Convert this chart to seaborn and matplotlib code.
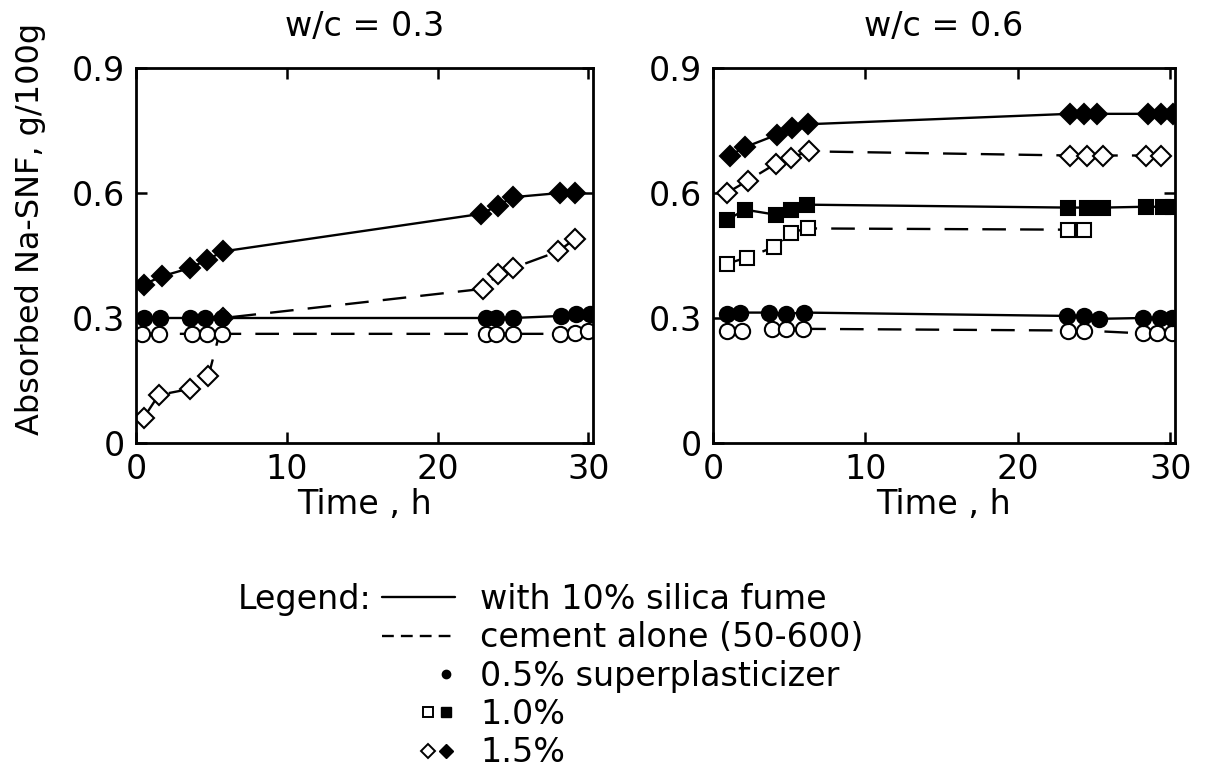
import numpy as np
import pandas as pd
import matplotlib
matplotlib.use("Agg")
import matplotlib.pyplot as plt
from matplotlib.lines import Line2D
from matplotlib.legend_handler import HandlerTuple
import seaborn as sns

# ---------------- data ----------------
panel_titles = ["w/c = 0.3", "w/c = 0.6"]

# w/c = 0.3
l_sf15_t = [0.5, 1.7, 3.6, 4.7, 5.8, 22.9, 24.0, 25.0, 28.1, 29.1]
l_sf15_v = [0.38, 0.40, 0.42, 0.44, 0.46, 0.55, 0.57, 0.59, 0.60, 0.60]
l_c15_t = [0.5, 1.5, 3.6, 4.8, 5.8, 23.0, 24.0, 25.0, 28.0, 29.1]
l_c15_v = [0.06, 0.115, 0.13, 0.16, 0.30, 0.37, 0.405, 0.42, 0.46, 0.49]
l_sf05_t = [0.5, 1.6, 3.6, 4.6, 5.7, 23.2, 23.9, 25.0, 28.2, 29.2, 30.1]
l_sf05_v = [0.30, 0.30, 0.30, 0.30, 0.30, 0.30, 0.30, 0.30, 0.305, 0.31, 0.31]
l_c05_t = [0.4, 1.5, 3.7, 4.7, 5.7, 23.2, 23.9, 25.0, 28.1, 29.1, 30.0]
l_c05_v = [0.262, 0.262, 0.262, 0.262, 0.262, 0.262, 0.262, 0.262, 0.262, 0.265, 0.27]

# w/c = 0.6
r_sf15_t = [1.1, 2.1, 4.2, 5.2, 6.2, 23.4, 24.3, 25.2, 28.5, 29.4, 30.2]
r_sf15_v = [0.69, 0.71, 0.74, 0.755, 0.765, 0.79, 0.79, 0.79, 0.79, 0.79, 0.79]
r_c15_t = [0.9, 2.3, 4.1, 5.1, 6.3, 23.4, 24.5, 25.6, 28.4, 29.4]
r_c15_v = [0.60, 0.63, 0.67, 0.685, 0.70, 0.69, 0.69, 0.69, 0.69, 0.69]
r_sf10_t = [0.9, 2.1, 4.1, 5.1, 6.15, 23.3, 24.5, 25.6, 28.4, 29.5, 30.2]
r_sf10_v = [0.535, 0.56, 0.548, 0.56, 0.572, 0.565, 0.565, 0.565, 0.567, 0.567, 0.567]
r_c10_t = [0.9, 2.2, 4.0, 5.1, 6.2, 23.3, 24.3]
r_c10_v = [0.43, 0.445, 0.47, 0.505, 0.515, 0.512, 0.512]
r_sf05_t = [0.9, 1.8, 3.7, 4.8, 6.0, 23.2, 24.3, 25.3, 28.2, 29.3, 30.1]
r_sf05_v = [0.31, 0.313, 0.313, 0.31, 0.313, 0.305, 0.304, 0.298, 0.30, 0.30, 0.30]
r_c05_t = [0.9, 1.9, 3.9, 4.8, 5.9, 23.3, 24.3, 28.2, 29.1, 30.1]
r_c05_v = [0.27, 0.27, 0.274, 0.274, 0.274, 0.27, 0.27, 0.263, 0.263, 0.265]

x_ticks = [0, 10, 20, 30]
y_ticks = [0, 0.3, 0.6, 0.9]
y_tick_labels = ["0", "0.3", "0.6", "0.9"]

legend_labels = ["with 10% silica fume", "cement alone (50-600)",
                 "0.5% superplasticizer", "1.0%", "1.5%"]


def frame(series):
    rows = []
    for name, t, v in series:
        for ti, vi in zip(t, v):
            rows.append({"series": name, "time": ti, "value": vi})
    return pd.DataFrame(rows)


left_df = frame([
    ("c15", l_c15_t, l_c15_v),
    ("sf15", l_sf15_t, l_sf15_v),
    ("c05", l_c05_t, l_c05_v),
    ("sf05", l_sf05_t, l_sf05_v),
])
right_df = frame([
    ("sf15", r_sf15_t, r_sf15_v),
    ("c15", r_c15_t, r_c15_v),
    ("sf10", r_sf10_t, r_sf10_v),
    ("c10", r_c10_t, r_c10_v),
    ("c05", r_c05_t, r_c05_v),
    ("sf05", r_sf05_t, r_sf05_v),
])

# ---------------- styles ----------------
DASH = (0, (10, 6))
styles = {
    "sf15": dict(marker="D", markersize=10.5, markerfacecolor="black", linestyle="-"),
    "c15": dict(marker="D", markersize=10.5, markerfacecolor="white", linestyle=DASH),
    "sf10": dict(marker="s", markersize=10, markerfacecolor="black", linestyle="-"),
    "c10": dict(marker="s", markersize=10, markerfacecolor="white", linestyle=DASH),
    "sf05": dict(marker="o", markersize=11, markerfacecolor="black", linestyle="-"),
    "c05": dict(marker="o", markersize=11, markerfacecolor="white", linestyle=DASH),
}

sns.set_theme(style="ticks")
plt.rcParams["font.family"] = ["DejaVu Sans"]
plt.rcParams["text.color"] = "black"
plt.rcParams["axes.labelcolor"] = "black"
plt.rcParams["xtick.color"] = "black"
plt.rcParams["ytick.color"] = "black"
FS = 24

fig = plt.figure(figsize=(12.10, 7.74), dpi=100)
ax_l = fig.add_axes([136 / 1210, 1 - 443 / 774, 457 / 1210, 375 / 774])
ax_r = fig.add_axes([713 / 1210, 1 - 443 / 774, 462 / 1210, 375 / 774])

for ax, df, title in [(ax_l, left_df, panel_titles[0]), (ax_r, right_df, panel_titles[1])]:
    for name in df["series"].unique():
        sub = df[df["series"] == name]
        st = styles[name]
        sns.lineplot(data=sub, x="time", y="value", ax=ax, color="black",
                     linewidth=1.7, markeredgecolor="black", markeredgewidth=1.5,
                     estimator=None, sort=True, legend=False, **st)
    ax.set_xlim(0, 30.3)
    ax.set_ylim(0, 0.9)
    ax.set_xticks(x_ticks)
    ax.set_xticklabels([str(t) for t in x_ticks])
    ax.set_yticks(y_ticks)
    ax.set_yticklabels(y_tick_labels)
    ax.tick_params(direction="in", length=8, width=1.8, top=True, right=True,
                   labelsize=FS, colors="black")
    ax.tick_params(axis="x", pad=7)
    ax.tick_params(axis="y", pad=8)
    for sp in ax.spines.values():
        sp.set_linewidth(2.0)
        sp.set_color("black")
    ax.set_title(title, fontsize=FS, pad=23, color="black")
    ax.set_xlabel("Time , h", fontsize=FS, labelpad=2)
    ax.set_ylabel("")
    ax.set_facecolor("white")

ax_l.set_ylabel("Absorbed Na-SNF, g/100g", fontsize=23)
ax_l.yaxis.set_label_coords(-0.196, 0.57)

# ---------------- legend ----------------
blank = Line2D([], [], linestyle="none", marker=None)
h_solid = Line2D([], [], color="black", lw=1.7, linestyle="-")
h_dash = Line2D([], [], color="black", lw=1.7, linestyle=(0, (5, 3)))
h_dot = Line2D([], [], color="black", linestyle="none", marker="o", markersize=6)
h_sq_o = Line2D([], [], color="black", linestyle="none", marker="s", markersize=7.5,
                markerfacecolor="white", markeredgewidth=1.4)
h_sq_f = Line2D([], [], color="black", linestyle="none", marker="s", markersize=7.5)
h_d_o = Line2D([], [], color="black", linestyle="none", marker="D", markersize=7.5,
               markerfacecolor="white", markeredgewidth=1.4)
h_d_f = Line2D([], [], color="black", linestyle="none", marker="D", markersize=7.5)

handles = [h_solid, h_dash, (blank, blank, blank, h_dot),
           (blank, blank, h_sq_o, h_sq_f), (blank, blank, h_d_o, h_d_f)]

fig.legend(handles, legend_labels, loc="upper left",
           bbox_to_anchor=(382 / 1210, 1 - 583 / 774), frameon=False,
           fontsize=FS, handlelength=2.2, handletextpad=0.75, labelspacing=0.16,
           borderpad=0, borderaxespad=0, labelcolor="black",
           handler_map={tuple: HandlerTuple(ndivide=4, pad=0)})
fig.text(238 / 1210, 1 - 600 / 774, "Legend:", fontsize=FS, va="center", ha="left",
         color="black")

fig.savefig("out.png", dpi=100, facecolor="white")
